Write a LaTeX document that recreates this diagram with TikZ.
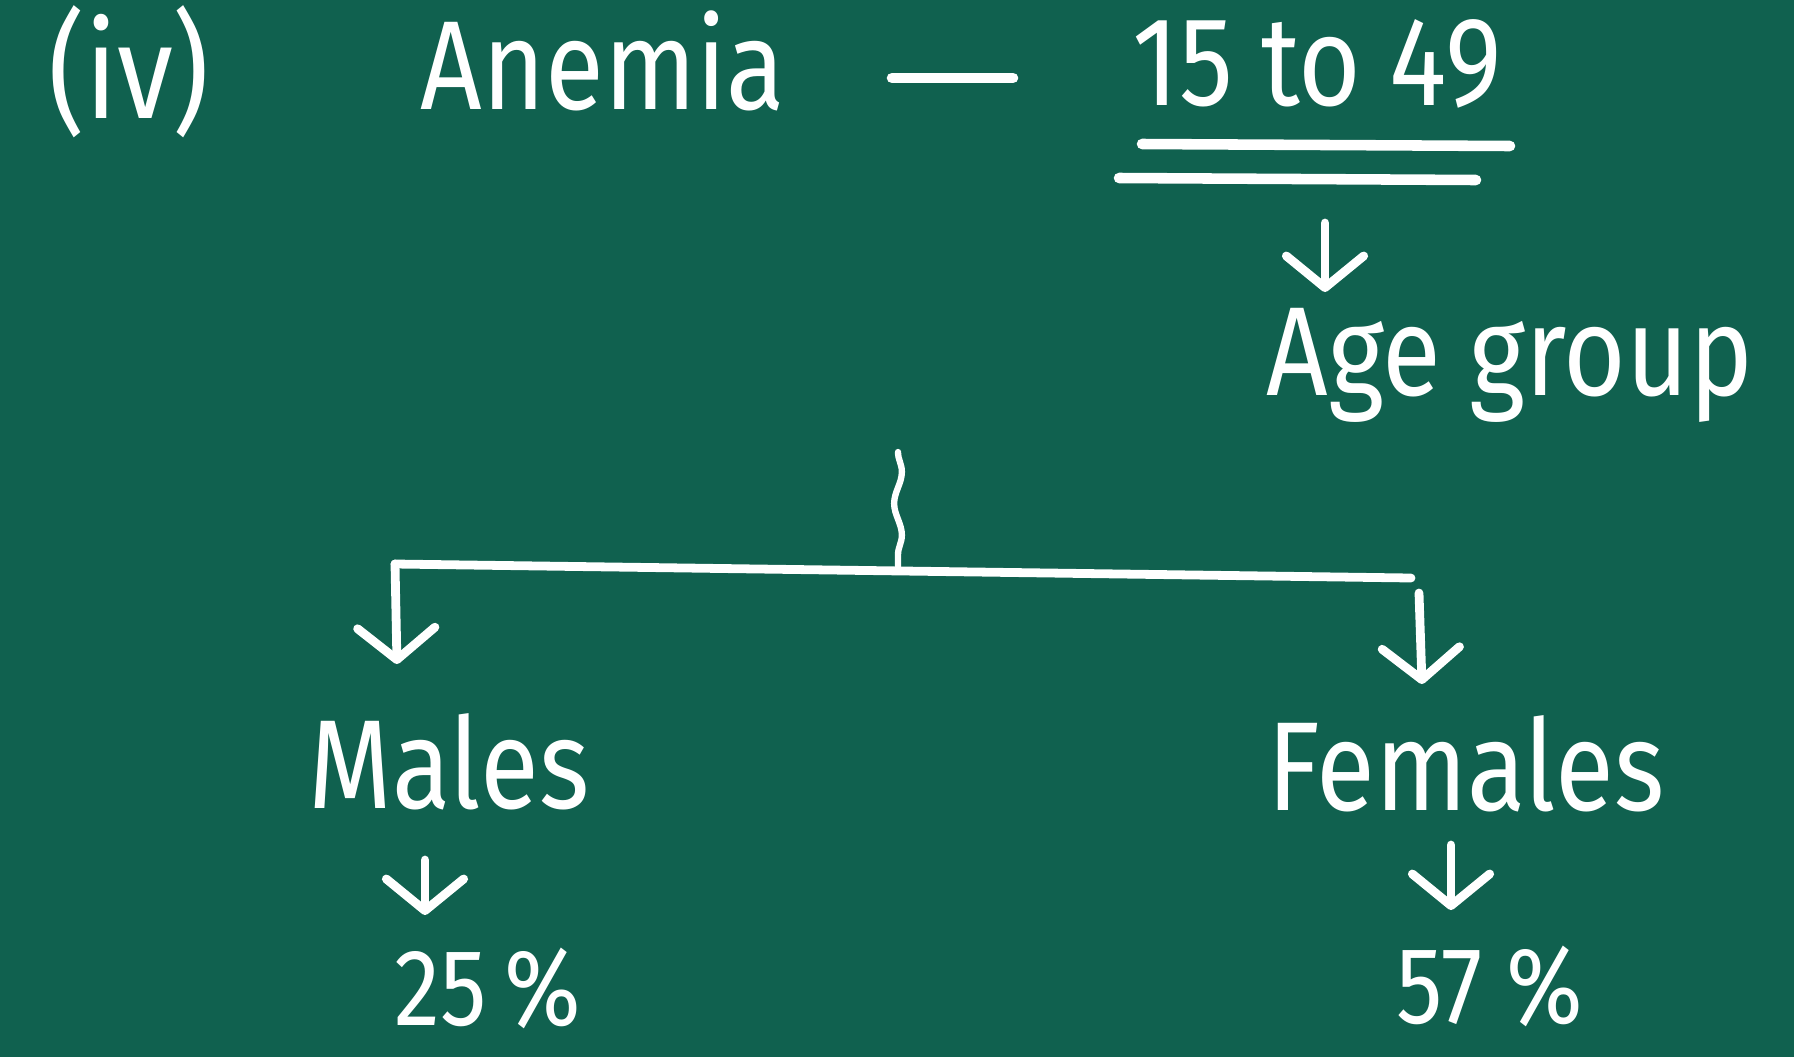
\documentclass[tikz,border=0pt]{standalone}
\usepackage{fontspec}
\setmainfont{Fira Sans}
\newfontfamily\hand[FakeStretch=0.85]{Fira Sans}
\usetikzlibrary{arrows.meta,decorations.pathmorphing}
\definecolor{board}{HTML}{10614F}
\begin{document}
\begin{tikzpicture}[x=0.01cm,y=-0.01cm,
  chalk/.style={white, line width=2.5pt, line cap=round},
  txt/.style={text=white, inner sep=0pt, anchor=base, font=\hand\fontsize{36}{42}\selectfont},
  pct/.style={txt, font=\hand\fontsize{31}{36}\selectfont},
  arr/.style={chalk, -{Straight Barb[length=9pt,width=22pt,round]}},
  wavy/.style={white, line width=1.8pt, line cap=round, decorate, decoration={snake, amplitude=1.1pt, segment length=18pt}}]
\fill[board] (0,0) rectangle (1794,1057);
\useasboundingbox (0,0) rectangle (1794,1057);
% texts
\node[txt, font=\hand\fontsize{38}{44}\selectfont] (iv) at (129,118) {(iv)};
\node[txt] (anemia) at (603,109) {Anemia};
\node[txt] (range) at (1317,105) {15 to 49};
\node[txt] (age) at (1510,395) {Age group};
\node[txt] (males) at (449,808) {Males};
\node[txt] (females) at (1466,810) {Females};
\node[pct] (p25) at (488,1025) {25\,\%};
\node[pct] (p57) at (1490,1023) {57 \%};
% coordinates
\coordinate (dashL) at (892,78);
\coordinate (dashR) at (1013,78);
\coordinate (u1a) at (1142,144);
\coordinate (u1b) at (1510,146);
\coordinate (u2a) at (1119,178);
\coordinate (u2b) at (1476,180);
\coordinate (a1s) at (1325,223);
\coordinate (a1e) at (1325,292);
\coordinate (wtop) at (898,452);
\coordinate (barL) at (395,564);
\coordinate (barR) at (1411,578);
\coordinate (barM) at (898,571);
\coordinate (lE) at (397,664);
\coordinate (rS) at (1419,593);
\coordinate (rE) at (1422,684);
\coordinate (mS) at (425,860);
\coordinate (mE) at (425,915);
\coordinate (fS) at (1451,845);
\coordinate (fE) at (1451,910);
% strokes
\draw[chalk, line width=3pt] (dashL) -- (dashR);
\draw[chalk, line width=3pt] (u1a) -- (u1b);
\draw[chalk, line width=3pt] (u2a) -- (u2b);
\draw[arr] (a1s) -- (a1e);
\draw[wavy] (wtop) -- (barM);
\draw[chalk] (barL) -- (barR);
\draw[arr] (barL) -- (lE);
\draw[arr] (rS) -- (rE);
\draw[arr] (mS) -- (mE);
\draw[arr] (fS) -- (fE);
\end{tikzpicture}
\end{document}
